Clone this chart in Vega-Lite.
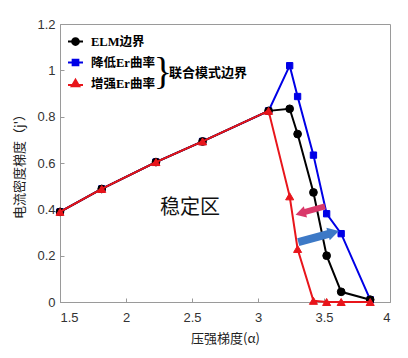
{
  "$schema": "https://vega.github.io/schema/vega-lite/v6.json",
  "width": 330,
  "height": 278,
  "autosize": "none",
  "padding": {"left": 60, "top": 24, "right": 18, "bottom": 56},
  "background": "white",
  "config": {
    "view": {"stroke": "#9a9a9a", "strokeWidth": 1},
    "axis": {
      "grid": false,
      "domainColor": "#9a9a9a",
      "tickColor": "#9a9a9a",
      "tickSize": -4,
      "labelFont": "Liberation Sans",
      "labelFontSize": 13,
      "labelColor": "#333333",
      "titleFont": "Noto Sans CJK SC",
      "titleFontSize": 13,
      "titleFontWeight": "normal",
      "titleColor": "#222222"
    }
  },
  "data": {
    "values": [
      {"s": "ELM边界", "x": 1.5, "y": 0.389},
      {"s": "ELM边界", "x": 1.816, "y": 0.488},
      {"s": "ELM边界", "x": 2.227, "y": 0.604},
      {"s": "ELM边界", "x": 2.58, "y": 0.693},
      {"s": "ELM边界", "x": 3.08, "y": 0.825},
      {"s": "ELM边界", "x": 3.24, "y": 0.834},
      {"s": "ELM边界", "x": 3.30, "y": 0.725},
      {"s": "ELM边界", "x": 3.42, "y": 0.473},
      {"s": "ELM边界", "x": 3.52, "y": 0.20},
      {"s": "ELM边界", "x": 3.63, "y": 0.044},
      {"s": "ELM边界", "x": 3.85, "y": 0.01},
      {"s": "降低Er曲率", "x": 1.5, "y": 0.389},
      {"s": "降低Er曲率", "x": 1.816, "y": 0.488},
      {"s": "降低Er曲率", "x": 2.227, "y": 0.604},
      {"s": "降低Er曲率", "x": 2.58, "y": 0.693},
      {"s": "降低Er曲率", "x": 3.08, "y": 0.825},
      {"s": "降低Er曲率", "x": 3.24, "y": 1.02},
      {"s": "降低Er曲率", "x": 3.30, "y": 0.887},
      {"s": "降低Er曲率", "x": 3.42, "y": 0.634},
      {"s": "降低Er曲率", "x": 3.52, "y": 0.381},
      {"s": "降低Er曲率", "x": 3.63, "y": 0.295},
      {"s": "降低Er曲率", "x": 3.85, "y": 0.01},
      {"s": "增强Er曲率", "x": 1.5, "y": 0.389},
      {"s": "增强Er曲率", "x": 1.816, "y": 0.488},
      {"s": "增强Er曲率", "x": 2.227, "y": 0.604},
      {"s": "增强Er曲率", "x": 2.58, "y": 0.693},
      {"s": "增强Er曲率", "x": 3.08, "y": 0.825},
      {"s": "增强Er曲率", "x": 3.24, "y": 0.456},
      {"s": "增强Er曲率", "x": 3.30, "y": 0.229},
      {"s": "增强Er曲率", "x": 3.42, "y": 0.005},
      {"s": "增强Er曲率", "x": 3.52, "y": 0.0},
      {"s": "增强Er曲率", "x": 3.63, "y": 0.0},
      {"s": "增强Er曲率", "x": 3.85, "y": 0.0}
    ]
  },
  "encoding": {
    "x": {
      "field": "x", "type": "quantitative",
      "scale": {"domain": [1.5, 4], "nice": false, "zero": false},
      "axis": {"values": [1.5, 2, 2.5, 3, 3.5, 4], "labelExpr": "'' + datum.value", "title": "压强梯度(α)", "labelPadding": 13, "titlePadding": 8}
    },
    "y": {
      "field": "y", "type": "quantitative",
      "scale": {"domain": [0, 1.2], "nice": false},
      "axis": {"values": [0, 0.2, 0.4, 0.6, 0.8, 1, 1.2], "labelExpr": "'' + datum.value", "title": "电流密度梯度（j'）", "labelPadding": 9, "titlePadding": 10}
    }
  },
  "layer": [
    {"transform": [{"filter": "datum.s === '降低Er曲率'"}], "mark": {"type": "line", "color": "#0000e6", "strokeWidth": 2}},
    {"transform": [{"filter": "datum.s === '降低Er曲率'"}], "mark": {"type": "point", "shape": "square", "filled": true, "opacity": 1, "fill": "#0000e6", "stroke": "#0000e6", "strokeWidth": 1, "size": 40}},
    {"transform": [{"filter": "datum.s === 'ELM边界'"}], "mark": {"type": "line", "color": "#000000", "strokeWidth": 2}},
    {"transform": [{"filter": "datum.s === 'ELM边界'"}], "mark": {"type": "point", "shape": "circle", "filled": true, "opacity": 1, "fill": "#000000", "stroke": "#000000", "strokeWidth": 1, "size": 60}},
    {"transform": [{"filter": "datum.s === '增强Er曲率'"}], "mark": {"type": "line", "color": "#e8151b", "strokeWidth": 2}},
    {"transform": [{"filter": "datum.s === '增强Er曲率'"}], "mark": {"type": "point", "shape": "triangle-up", "filled": true, "opacity": 1, "fill": "#e8151b", "stroke": "#e8151b", "strokeWidth": 1, "size": 65}},
    {
      "transform": [{"filter": "datum.s === 'ELM边界' && datum.x === 1.5"}],
      "mark": {"type": "rule", "color": "#d9386a", "strokeWidth": 6, "strokeCap": "butt"},
      "encoding": {"x": {"datum": 3.508}, "y": {"datum": 0.413}, "x2": {"datum": 3.344}, "y2": {"datum": 0.387}}
    },
    {
      "transform": [{"filter": "datum.s === 'ELM边界' && datum.x === 1.5"}],
      "mark": {"type": "point", "shape": "triangle-right", "filled": true, "opacity": 1, "color": "#d9386a", "size": 140, "angle": 164},
      "encoding": {"x": {"datum": 3.322}, "y": {"datum": 0.383}}
    },
    {
      "transform": [{"filter": "datum.s === 'ELM边界' && datum.x === 1.5"}],
      "mark": {"type": "rule", "color": "#3d79c6", "strokeWidth": 8, "strokeCap": "butt"},
      "encoding": {"x": {"datum": 3.305}, "y": {"datum": 0.258}, "x2": {"datum": 3.55}, "y2": {"datum": 0.296}}
    },
    {
      "transform": [{"filter": "datum.s === 'ELM边界' && datum.x === 1.5"}],
      "mark": {"type": "point", "shape": "triangle-right", "filled": true, "opacity": 1, "color": "#3d79c6", "size": 170, "angle": 345},
      "encoding": {"x": {"datum": 3.572}, "y": {"datum": 0.300}}
    },
    {
      "transform": [{"filter": "datum.s === 'ELM边界' && datum.x === 1.5"}],
      "mark": {"type": "text", "text": "稳定区", "font": "Noto Sans CJK SC", "fontSize": 20, "fontWeight": 400, "color": "#111111", "align": "center", "baseline": "middle"},
      "encoding": {"x": {"datum": 2.485}, "y": {"datum": 0.407}}
    },
    {
      "transform": [{"filter": "datum.s === 'ELM边界' && datum.x === 1.5"}],
      "mark": {"type": "text", "text": "}", "font": "Liberation Serif", "fontSize": 38, "color": "#000000", "align": "center", "baseline": "middle"},
      "encoding": {"x": {"datum": 2.28}, "y": {"datum": 0.99}}
    },
    {
      "transform": [{"filter": "datum.s === 'ELM边界' && datum.x === 1.5"}],
      "mark": {"type": "text", "text": "联合模式边界", "font": "Noto Sans CJK SC", "fontSize": 13, "fontWeight": "bold", "color": "#000000", "align": "left", "baseline": "middle"},
      "encoding": {"x": {"datum": 2.326}, "y": {"datum": 0.99}}
    },
    {
      "transform": [{"filter": "false"}],
      "mark": {"type": "point", "filled": true, "opacity": 1},
      "encoding": {
        "fill": {
          "field": "s", "type": "nominal",
          "scale": {"domain": ["ELM边界", "降低Er曲率", "增强Er曲率"], "range": ["#000000", "#0000e6", "#e8151b"]},
          "legend": {"title": null, "orient": "none", "legendX": 7, "legendY": 9, "padding": 0, "symbolSize": 225, "symbolStrokeWidth": 2, "symbolOpacity": 1, "labelFont": "Liberation Serif, Noto Sans CJK SC", "labelFontSize": 12.5, "labelFontWeight": "bold", "labelColor": "#000000", "labelOffset": 7, "rowPadding": 5}
        },
        "stroke": {
          "field": "s", "type": "nominal",
          "scale": {"domain": ["ELM边界", "降低Er曲率", "增强Er曲率"], "range": ["#000000", "#0000e6", "#e8151b"]},
          "legend": {"title": null, "orient": "none", "legendX": 7, "legendY": 9, "padding": 0, "symbolSize": 225, "symbolStrokeWidth": 2, "symbolOpacity": 1, "labelFont": "Liberation Serif, Noto Sans CJK SC", "labelFontSize": 12.5, "labelFontWeight": "bold", "labelColor": "#000000", "labelOffset": 7, "rowPadding": 5}
        },
        "shape": {
          "field": "s", "type": "nominal",
          "scale": {"domain": ["ELM边界", "降低Er曲率", "增强Er曲率"], "range": ["M-1,0H1M0.45,0A0.45,0.45 0 1,1 -0.45,0A0.45,0.45 0 1,1 0.45,0Z", "M-1,0H1M-0.38,-0.38H0.38V0.38H-0.38Z", "M-1,0.2H1M0,-0.5L0.5,0.35H-0.5Z"]},
          "legend": {"title": null, "orient": "none", "legendX": 7, "legendY": 9, "padding": 0, "symbolSize": 225, "symbolStrokeWidth": 2, "symbolOpacity": 1, "labelFont": "Liberation Serif, Noto Sans CJK SC", "labelFontSize": 12.5, "labelFontWeight": "bold", "labelColor": "#000000", "labelOffset": 7, "rowPadding": 5}
        }
      }
    }
  ]
}
